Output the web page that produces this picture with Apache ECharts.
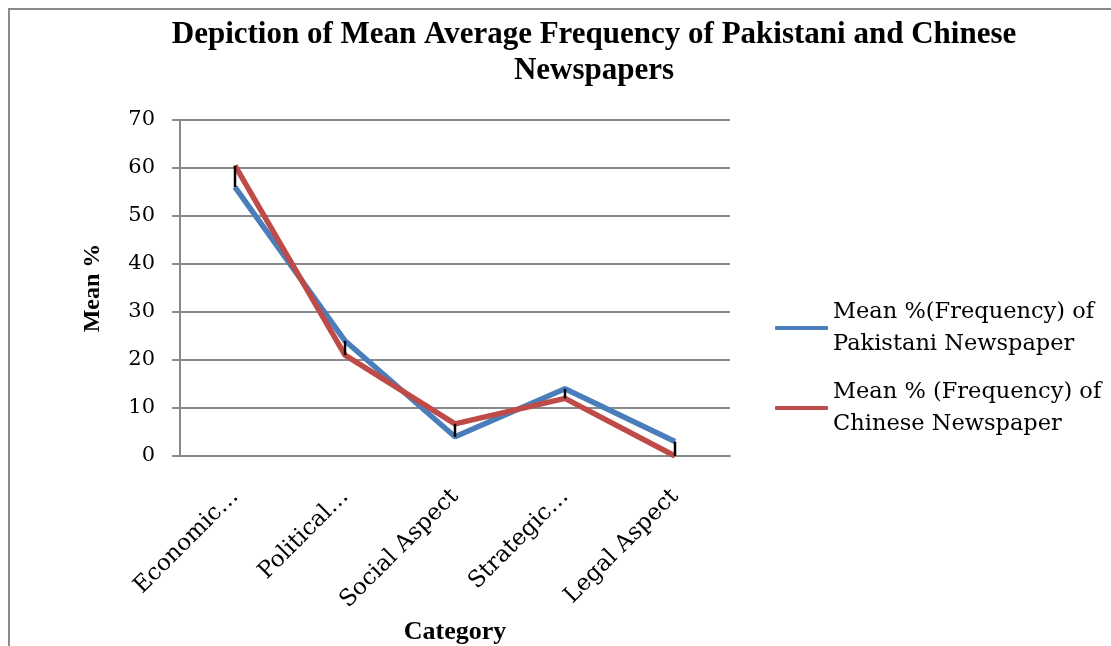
<!DOCTYPE html>
<html>
<head>
<meta charset="utf-8">
<script src="https://cdn.jsdelivr.net/npm/echarts@6/dist/echarts.min.js"></script>
<style>html,body{margin:0;padding:0;background:#fff;overflow:hidden}#c{width:1111px;height:646px}</style>
</head>
<body>
<div id="c"></div>
<script>
const categories = ['Economic\u2026', 'Political\u2026', 'Social Aspect', 'Strategic\u2026', 'Legal Aspect'];
const pakistani = [56, 24, 4, 14, 3];
const chinese = [60.5, 21, 6.7, 12, 0];
const yTicks = [0, 10, 20, 30, 40, 50, 60, 70];
const seriesNames = ['Mean %(Frequency) of\nPakistani Newspaper', 'Mean % (Frequency) of\nChinese Newspaper'];

const hiLo = categories.map((c, i) => [i, Math.min(pakistani[i], chinese[i]), Math.max(pakistani[i], chinese[i])]);
const serif = 'Liberation Serif';
const wide = 'DejaVu Serif';
const grey = '#8a8a8a';

const chart = echarts.init(document.getElementById('c'), null, {renderer: 'canvas'});
chart.setOption({
  animation: false,
  backgroundColor: '#fff',
  title: {
    text: 'Depiction of Mean Average Frequency of Pakistani and Chinese\nNewspapers',
    left: 589, top: 12, textAlign: 'center',
    textStyle: {fontFamily: serif, fontWeight: 'bold', fontSize: 31, lineHeight: 36, color: '#000'}
  },
  graphic: [
    {type: 'polyline', shape: {points: [[9, 660], [9, 9], [1120, 9]]}, style: {stroke: grey, lineWidth: 2, fill: null}, silent: true}
  ],
  legend: {
    orient: 'vertical', left: 770, top: 275,
    itemWidth: 53, itemHeight: 4, itemGap: -16,
    icon: 'roundRect',
    textStyle: {fontFamily: wide, fontSize: 22.5, lineHeight: 32, color: '#000', padding: [32, 0, 0, 0]},
    data: seriesNames
  },
  grid: {left: 180, right: 381, top: 120, bottom: 190, containLabel: false, outerBoundsMode: 'none'},
  xAxis: {
    type: 'category', data: categories, boundaryGap: true,
    name: 'Category', nameLocation: 'middle', nameGap: 160,
    nameTextStyle: {fontFamily: serif, fontWeight: 'bold', fontSize: 26, color: '#000'},
    axisLine: {lineStyle: {color: grey, width: 2}},
    axisTick: {show: false},
    axisLabel: {rotate: 45, margin: 37, fontFamily: wide, fontSize: 23, color: '#000', interval: 0}
  },
  yAxis: {
    type: 'value', min: 0, max: 70, interval: 10,
    name: 'Mean %', nameLocation: 'middle', nameGap: 75,
    nameTextStyle: {fontFamily: serif, fontWeight: 'bold', fontSize: 24, color: '#000'},
    axisLine: {show: true, lineStyle: {color: grey, width: 2}},
    axisTick: {show: true, length: 8, inside: false, lineStyle: {color: grey, width: 2}},
    axisLabel: {margin: 25, fontFamily: wide, fontSize: 21, color: '#000',
      formatter: v => yTicks.indexOf(v) >= 0 ? String(v) : ''},
    splitLine: {lineStyle: {color: grey, width: 2}}
  },
  series: [
    {name: seriesNames[0], type: 'line', data: pakistani, showSymbol: false, symbol: 'none',
      lineStyle: {color: '#4a7ebb', width: 5.5}, itemStyle: {color: '#4a7ebb'}, z: 3},
    {name: seriesNames[1], type: 'line', data: chinese, showSymbol: false, symbol: 'none',
      lineStyle: {color: '#be4b48', width: 5.5}, itemStyle: {color: '#be4b48'}, z: 4},
    {type: 'custom', data: hiLo, z: 5, silent: true,
      renderItem: (params, api) => {
        const a = api.coord([api.value(0), api.value(1)]);
        const b = api.coord([api.value(0), api.value(2)]);
        return {type: 'line', shape: {x1: a[0], y1: a[1], x2: b[0], y2: b[1]}, style: {stroke: '#000', lineWidth: 2.5}};
      }}
  ]
});
</script>
</body>
</html>
